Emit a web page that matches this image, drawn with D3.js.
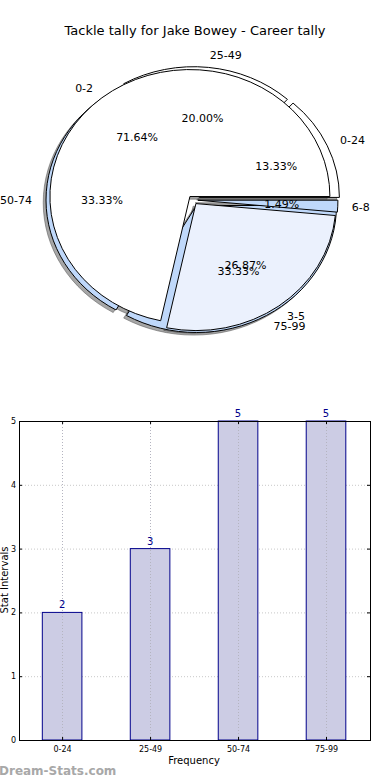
<!DOCTYPE html>
<html>
<head>
<meta charset="utf-8">
<script src="https://cdn.jsdelivr.net/npm/d3@7"></script>
<style>
  body { margin: 0; background: #fff; }
  svg { display: block; font-family: "DejaVu Sans", sans-serif; }
</style>
</head>
<body>
<div id="chart"></div>
<script>
// data
var groupLabels = ["0-24", "25-49", "50-74", "75-99"];
var groupCounts = [2, 3, 5, 5];
var tallyLabels = ["0-2", "3-5", "6-8"];
var tallyCounts = [48, 18, 1];
var groupColors = ["#ffffff", "#ffffff", "#bfd8fa", "#bfd8fa"];
var tallyColors = ["#ffffff", "#ebf1fd", "#bfd8fa"];
var yTicks = [0, 1, 2, 3, 4, 5];

var svgWidth = 390;
var svgHeight = 780;

var svg = d3.select("#chart")
  .append("svg")
  .attr("width", svgWidth)
  .attr("height", svgHeight);

svg.append("text")
  .attr("x", 195)
  .attr("y", 35)
  .attr("text-anchor", "middle")
  .attr("font-size", "13px")
  .text("Tackle tally for Jake Bowey - Career tally");

// ---- pie part (matplotlib style: counter clockwise from 3 o'clock, not equal aspect)
var cx = 193, cy = 200;
var rx = 140, ry = 127;

var pie = d3.pie()
  .sort(null)
  .startAngle(Math.PI / 2)
  .endAngle(Math.PI / 2 - 2 * Math.PI);

var unitArc = d3.arc().innerRadius(0).outerRadius(1);

var pieGroup = svg.append("g");
var shadowLayer = pieGroup.append("g");
var wedgeLayer = pieGroup.append("g");
var textLayer = pieGroup.append("g");

function drawPie(values, labels, colors, explode) {
  var total = d3.sum(values);
  var arcs = pie(values);

  arcs.forEach(function(d, i) {
    var mid = (d.startAngle + d.endAngle) / 2;
    var ox = cx + Math.sin(mid) * explode * rx;
    var oy = cy - Math.cos(mid) * explode * ry;

    // shadow, offset left and down
    shadowLayer.append("path")
      .attr("transform", `translate(${ox - 2.8}, ${oy + 2.6}) scale(${rx}, ${ry})`)
      .attr("d", unitArc(d))
      .attr("fill", "#4d4d4d")
      .attr("fill-opacity", 0.5)
      .attr("stroke", "#4d4d4d")
      .attr("stroke-opacity", 0.5)
      .attr("vector-effect", "non-scaling-stroke");

    wedgeLayer.append("path")
      .attr("transform", `translate(${ox}, ${oy}) scale(${rx}, ${ry})`)
      .attr("d", unitArc(d))
      .attr("fill", colors[i])
      .attr("stroke", "#000")
      .attr("stroke-width", 1)
      .attr("stroke-linejoin", "miter")
      .attr("vector-effect", "non-scaling-stroke");

    var lx = ox + Math.sin(mid) * 1.1 * rx;
    var ly = oy - Math.cos(mid) * 1.1 * ry;
    textLayer.append("text")
      .attr("x", lx)
      .attr("y", ly)
      .attr("dy", "0.35em")
      .attr("text-anchor", Math.sin(mid) > 0 ? "start" : "end")
      .attr("font-size", "11px")
      .text(labels[i]);

    var px = ox + Math.sin(mid) * 0.6 * rx;
    var py = oy - Math.cos(mid) * 0.6 * ry;
    textLayer.append("text")
      .attr("x", px)
      .attr("y", py)
      .attr("dy", "0.35em")
      .attr("text-anchor", "middle")
      .attr("font-size", "11px")
      .text(d3.format(".2f")(values[i] / total * 100) + "%");
  });
}

drawPie(groupCounts, groupLabels, groupColors, 0.05);
drawPie(tallyCounts, tallyLabels, tallyColors, 0.035);

// ---- bar part
var barLeft = 19, barRight = 370, barTop = 421, barBottom = 740;

var xLinearScale = d3.scaleLinear()
  .domain([-0.49, 3.5])
  .range([barLeft, barRight]);

var yLinearScale = d3.scaleLinear()
  .domain([0, 5])
  .range([barBottom, barTop]);

var barGroup = svg.append("g");

// horizontal grid behind bars
barGroup.selectAll(".hgrid")
  .data(yTicks)
  .enter()
  .append("line")
  .attr("x1", barLeft)
  .attr("x2", barRight)
  .attr("y1", d => yLinearScale(d) + 0.5)
  .attr("y2", d => yLinearScale(d) + 0.5)
  .attr("stroke", "#c8c8c8")
  .attr("stroke-dasharray", "1,2");

var barWidth = 0.45;
barGroup.selectAll(".bar")
  .data(groupCounts)
  .enter()
  .append("rect")
  .attr("x", (d, i) => xLinearScale(i - barWidth / 2))
  .attr("y", d => yLinearScale(d))
  .attr("width", xLinearScale(barWidth) - xLinearScale(0))
  .attr("height", d => yLinearScale(0) - yLinearScale(d))
  .attr("fill", "#ccccE4")
  .attr("stroke", "#00008b")
  .attr("stroke-width", 1);

// vertical grid through the bars
barGroup.selectAll(".vgrid")
  .data(groupLabels)
  .enter()
  .append("line")
  .attr("x1", (d, i) => Math.round(xLinearScale(i)) + 0.5)
  .attr("x2", (d, i) => Math.round(xLinearScale(i)) + 0.5)
  .attr("y1", barTop)
  .attr("y2", barBottom)
  .attr("stroke", "#b4b4c0")
  .attr("stroke-dasharray", "1,2");

barGroup.selectAll(".barval")
  .data(groupCounts)
  .enter()
  .append("text")
  .attr("x", (d, i) => xLinearScale(i))
  .attr("y", d => yLinearScale(d) - 4)
  .attr("text-anchor", "middle")
  .attr("font-size", "10px")
  .attr("fill", "#00008b")
  .text(d => d);

// frame
barGroup.append("rect")
  .attr("x", barLeft + 0.5)
  .attr("y", barTop + 0.5)
  .attr("width", barRight - barLeft)
  .attr("height", barBottom - barTop)
  .attr("fill", "none")
  .attr("stroke", "#000")
  .attr("stroke-width", 1);

// axes with inward ticks
var leftAxis = d3.axisLeft(yLinearScale)
  .tickValues(yTicks)
  .tickSize(-3)
  .tickPadding(3)
  .tickFormat(d3.format("d"));

var yAxis = barGroup.append("g")
  .attr("transform", `translate(${barLeft}, 0)`)
  .call(leftAxis);
yAxis.select(".domain").remove();
yAxis.selectAll("text").attr("font-size", "8px").attr("font-family", "DejaVu Sans");

var rightAxis = d3.axisRight(yLinearScale)
  .tickValues(yTicks)
  .tickSize(-3)
  .tickFormat("");
var yAxisR = barGroup.append("g")
  .attr("transform", `translate(${barRight}, 0)`)
  .call(rightAxis);
yAxisR.select(".domain").remove();

var bottomAxis = d3.axisBottom(xLinearScale)
  .tickValues(d3.range(groupLabels.length))
  .tickSize(-3)
  .tickPadding(6)
  .tickFormat(i => groupLabels[i]);

var xAxis = barGroup.append("g")
  .attr("transform", `translate(0, ${barBottom})`)
  .call(bottomAxis);
xAxis.select(".domain").remove();
xAxis.selectAll("text").attr("font-size", "8px").attr("font-family", "DejaVu Sans");

var topAxis = d3.axisTop(xLinearScale)
  .tickValues(d3.range(groupLabels.length))
  .tickSize(-3)
  .tickFormat("");
var xAxisT = barGroup.append("g")
  .attr("transform", `translate(0, ${barTop})`)
  .call(topAxis);
xAxisT.select(".domain").remove();

svg.append("text")
  .attr("x", 194)
  .attr("y", 764)
  .attr("text-anchor", "middle")
  .attr("font-size", "10px")
  .text("Frequency");

svg.append("text")
  .attr("transform", "translate(7.5, 580) rotate(-90)")
  .attr("text-anchor", "middle")
  .attr("font-size", "10px")
  .text("Stat Intervals");

svg.append("text")
  .attr("x", -1)
  .attr("y", 775)
  .attr("font-size", "12px")
  .attr("font-weight", "bold")
  .attr("fill", "#a8a8a8")
  .text("Dream-Stats.com");
</script>
</body>
</html>
